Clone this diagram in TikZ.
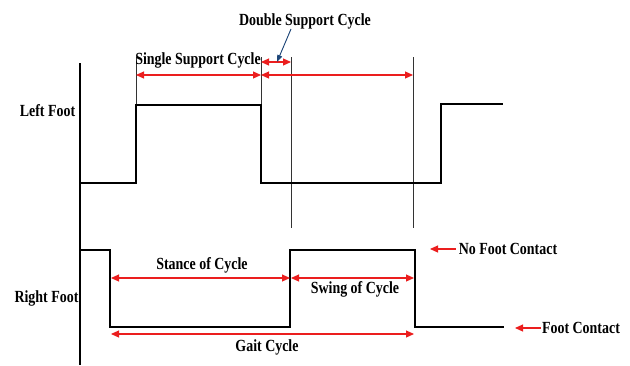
\documentclass[tikz,border=0pt]{standalone}
\usepackage{fontspec}
\setmainfont{Liberation Serif}
\newfontfamily\lblfont[FakeStretch=0.82]{Liberation Serif}
\usetikzlibrary{arrows.meta}
\definecolor{arrred}{RGB}{235,30,30}
\definecolor{arrblue}{RGB}{30,70,120}
\tikzset{
  signal/.style={line width=2.8pt, line join=miter},
  guide/.style={line width=0.6pt, draw=black!80},
  axis/.style={line width=1.8pt},
  span/.style={draw=arrred, line width=1.1pt, {Triangle[length=8pt,width=7pt]}-{Triangle[length=8pt,width=7pt]}, fill=arrred},
  pointer/.style={draw=arrred, line width=1.1pt, -{Triangle[length=8pt,width=7pt]}},
  lbl/.style={font=\lblfont\bfseries\fontsize{17}{19}\selectfont, inner sep=0pt, text=black}
}
\begin{document}
\begin{tikzpicture}[x=1pt,y=-1pt]
\useasboundingbox (0,0) rectangle (630,365);
% axis
\coordinate (axtop) at (80,63);
\coordinate (axbot) at (80,365);
\draw[axis] (axtop) -- (axbot);
% guide lines
\coordinate (g1t) at (136,57); \coordinate (g1b) at (136,105);
\coordinate (g2t) at (261,57); \coordinate (g2b) at (261,183);
\coordinate (g3t) at (291,57); \coordinate (g3b) at (291,228);
\coordinate (g4t) at (413,57); \coordinate (g4b) at (413,228);
\draw[guide] (g1t) -- (g1b);
\draw[guide] (g2t) -- (g2b);
\draw[guide] (g3t) -- (g3b);
\draw[guide] (g4t) -- (g4b);
% left foot signal
\draw[signal] (80,183) -- (136,183) -- (136,105) -- (261,105) -- (261,183) -- (441,183) -- (441,104) -- (503,104);
% right foot signal
\draw[signal] (80,250) -- (110,250) -- (110,327) -- (290,327) -- (290,250) -- (415,250) -- (415,327) -- (504,327);
% labels
\node[lbl] (lf) at (47.5,111) {Left Foot};
\node[lbl] (rf) at (46.5,298) {Right Foot};
\node[lbl] (ssc) at (198,60) {Single Support Cycle};
\node[lbl] (dsc) at (305,21) {Double Support Cycle};
\node[lbl] (stc) at (202,265) {Stance of Cycle};
\node[lbl] (swc) at (355,289) {Swing of Cycle};
\node[lbl] (gc) at (267,347) {Gait Cycle};
\node[lbl] (nfc) at (508,249) {No Foot Contact};
\node[lbl] (fc) at (581,328) {Foot Contact};
% span arrows
\coordinate (s1a) at (136,75); \coordinate (s1b) at (261,75);
\coordinate (s2a) at (261,62); \coordinate (s2b) at (291,62);
\coordinate (s3a) at (261,75); \coordinate (s3b) at (413,75);
\coordinate (s4a) at (111,278); \coordinate (s4b) at (290,278);
\coordinate (s5a) at (291,278); \coordinate (s5b) at (414,278);
\coordinate (s6a) at (111,334); \coordinate (s6b) at (414,334);
\draw[span] (s1a) -- (s1b);
\draw[span] (s2a) -- (s2b);
\draw[span] (s3a) -- (s3b);
\draw[span] (s4a) -- (s4b);
\draw[span] (s5a) -- (s5b);
\draw[span] (s6a) -- (s6b);
% contact pointers
\coordinate (nfcp) at (430,249);
\coordinate (fcp) at (515,328);
\draw[pointer] ([xshift=-3pt]nfc.west) -- (nfcp);
\draw[pointer] ([xshift=-1pt]fc.west) -- (fcp);
% blue pointer
\coordinate (bp1) at (291,29);
\coordinate (bp2) at (277,62);
\draw[draw=arrblue, line width=0.9pt, -{Triangle[length=7pt,width=5pt]}, fill=arrblue] (bp1) -- (bp2);
\end{tikzpicture}
\end{document}
